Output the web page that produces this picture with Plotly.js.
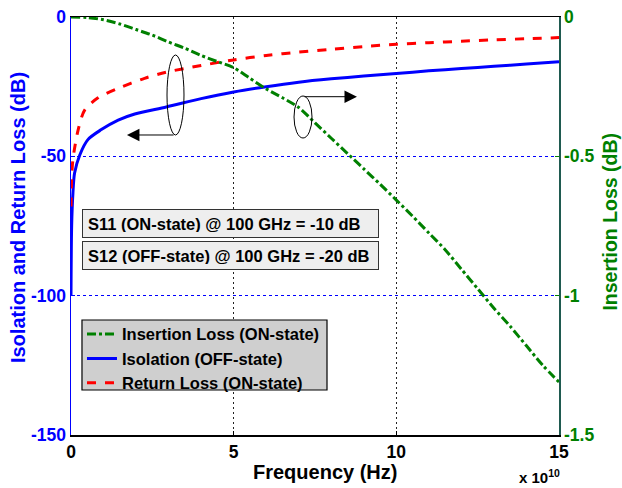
<!DOCTYPE html>
<html>
<head>
<meta charset="utf-8">
<script src="https://cdn.plot.ly/plotly-3.0.1.min.js"></script>
<style>html,body{margin:0;padding:0;background:#fff;}#chart{width:622px;height:488px;}</style>
</head>
<body>
<div id="chart"></div>
<script>
// Frequency in units of 1e10 Hz
const freqIso = [0, 0.02, 0.06, 0.11, 0.27, 0.52, 0.92, 1.45, 1.96, 2.93, 4, 5, 6, 7, 8, 9, 10, 11, 12, 13, 14, 15];
const isolation = [-100, -75, -63, -56, -49.5, -44, -40.5, -37, -34.8, -32.3, -29.3, -26.9, -25, -23.4, -22.2, -21.2, -20.3, -19.3, -18.5, -17.7, -16.9, -16.1];

const freqRL = [0, 0.02, 0.06, 0.22, 0.42, 0.83, 1.45, 2.26, 2.93, 4, 5, 6, 7, 8, 9, 10, 11, 12, 13, 14, 15];
const returnLoss = [-68, -58, -51, -40.5, -33.4, -29, -25.6, -22, -19.8, -17.4, -15.4, -13.8, -12.6, -11.6, -10.6, -9.8, -9.2, -8.7, -8.2, -7.8, -7.4];

const freqIL = [0, 0.5, 1, 1.5, 2, 2.5, 3, 3.5, 4, 4.5, 5, 5.5, 6, 6.5, 7, 7.5, 8, 8.5, 9, 9.5, 10, 10.5, 11, 11.5, 12, 12.5, 13, 13.5, 14, 14.5, 15];
const insertionLoss = [0, -0.002, -0.01, -0.025, -0.045, -0.065, -0.09, -0.112, -0.138, -0.16, -0.182, -0.22, -0.258, -0.29, -0.325, -0.38, -0.435, -0.49, -0.545, -0.6, -0.657, -0.715, -0.775, -0.835, -0.905, -0.975, -1.045, -1.11, -1.18, -1.25, -1.31];

const xTicks = [0, 5, 10, 15];
const yLeftTicks = [0, -50, -100, -150];
const yRightTicks = [0, -0.5, -1, -1.5];

const FONT = 'Liberation Sans, Arial, sans-serif';
const GREEN = '#008000', BLUE = '#0000ff', RED = '#ff0000';

const traces = [
  {x: freqIL, y: insertionLoss, yaxis: 'y2', type: 'scatter', mode: 'lines', name: 'Insertion Loss (ON-state)',
   line: {color: GREEN, width: 3, dash: 'dashdot', shape: 'spline', smoothing: 0.8}},
  {x: freqIso, y: isolation, type: 'scatter', mode: 'lines', name: 'Isolation (OFF-state)',
   line: {color: BLUE, width: 3, shape: 'spline', smoothing: 0.8}},
  {x: freqRL, y: returnLoss, type: 'scatter', mode: 'lines', name: 'Return Loss (ON-state)',
   line: {color: RED, width: 3, dash: 'dash', shape: 'spline', smoothing: 0.8}}
];

const tickFont = (c) => ({family: FONT, size: 17.5, color: c, weight: 'bold'});

const layout = {
  width: 622, height: 488,
  margin: {l: 71, r: 63, t: 17, b: 53},
  paper_bgcolor: '#fff', plot_bgcolor: '#fff',
  font: {family: FONT, size: 16, color: '#000', weight: 'bold'},
  showlegend: true,
  legend: {x: 0.0225, y: 0.283, xanchor: 'left', yanchor: 'top', bgcolor: 'rgba(0,0,0,0)', borderwidth: 0,
           font: {family: FONT, size: 16.5, color: '#000', weight: 'bold'}, tracegroupgap: 0, itemwidth: 30},
  xaxis: {range: [0, 15], tickvals: xTicks, ticktext: xTicks.map(String), showline: true, linecolor: '#000', linewidth: 1.5,
          mirror: true, showgrid: true, gridcolor: '#222', griddash: '2px,3px', gridwidth: 1, zeroline: false,
          ticks: 'inside', ticklen: 4, tickcolor: '#000', tickfont: tickFont('#000')},
  yaxis: {range: [-150, 0], tickvals: yLeftTicks, ticktext: yLeftTicks.map(String), showline: true, linecolor: BLUE, linewidth: 1.5,
          showgrid: true, gridcolor: BLUE, griddash: '3px,3px', gridwidth: 1, zeroline: false,
          ticks: 'inside', ticklen: 4, tickcolor: BLUE, tickfont: tickFont(BLUE)},
  yaxis2: {range: [-1.5, 0], tickvals: yRightTicks, ticktext: yRightTicks.map(String), overlaying: 'y', side: 'right',
           showline: true, linecolor: '#1f5a50', linewidth: 1.5, showgrid: false, zeroline: false,
           ticks: 'inside', ticklen: 4, tickcolor: GREEN, tickfont: tickFont(GREEN)},
  shapes: [
    {type: 'circle', xref: 'x', yref: 'y', x0: 2.951, x1: 3.473, y0: -13.64, y1: -42.34, line: {color: '#000', width: 1}},
    {type: 'circle', xref: 'x', yref: 'y', x0: 6.855, x1: 7.408, y0: -28.35, y1: -43.42, line: {color: '#000', width: 1}},
    {type: 'rect', xref: 'paper', yref: 'paper', x0: 0.0225, x1: 0.5246, y0: 0.1077, y1: 0.2751,
     fillcolor: '#cfcfcf', line: {color: '#000', width: 1.2}, layer: 'above'}
  ],
  annotations: [
    {x: 1.72, y: -42.34, xref: 'x', yref: 'y', ax: 3.2, ay: -42.34, axref: 'x', ayref: 'y', showarrow: true, text: '',
     arrowhead: 2, arrowsize: 2.5, arrowwidth: 1, arrowcolor: '#000'},
    {x: 8.79, y: -28.6, xref: 'x', yref: 'y', ax: 7.13, ay: -28.6, axref: 'x', ayref: 'y', showarrow: true, text: '',
     arrowhead: 2, arrowsize: 2.5, arrowwidth: 1, arrowcolor: '#000'},
    {x: 0.0225, y: 0.5407, xref: 'paper', yref: 'paper', xanchor: 'left', yanchor: 'top', showarrow: false,
     text: 'S11 (ON-state) @ 100 GHz = -10 dB', align: 'left', width: 285, height: 17, borderpad: 5,
     bgcolor: '#eeeeee', bordercolor: '#333', borderwidth: 1, font: {family: FONT, size: 16.5, color: '#000', weight: 'bold'}},
    {x: 0.0225, y: 0.464, xref: 'paper', yref: 'paper', xanchor: 'left', yanchor: 'top', showarrow: false,
     text: 'S12 (OFF-state) @ 100 GHz = -20 dB', align: 'left', width: 285, height: 17, borderpad: 5,
     bgcolor: '#eeeeee', bordercolor: '#333', borderwidth: 1, font: {family: FONT, size: 16.5, color: '#000', weight: 'bold'}},
    {x: -0.1086, y: 0.519, xref: 'paper', yref: 'paper', xanchor: 'center', yanchor: 'middle', textangle: -90, showarrow: false,
     text: 'Isolation and Return Loss (dB)', font: {family: FONT, size: 20, color: BLUE, weight: 'bold'}},
    {x: 1.104, y: 0.51, xref: 'paper', yref: 'paper', xanchor: 'center', yanchor: 'middle', textangle: -90, showarrow: false,
     text: 'Insertion Loss (dB)', font: {family: FONT, size: 19.5, color: GREEN, weight: 'bold'}},
    {x: 0.52, y: -0.0895, xref: 'paper', yref: 'paper', xanchor: 'center', yanchor: 'middle', showarrow: false,
     text: 'Frequency (Hz)', font: {family: FONT, size: 20, color: '#000', weight: 'bold'}},
    {x: 0.961, y: -0.1, xref: 'paper', yref: 'paper', xanchor: 'center', yanchor: 'middle', showarrow: false,
     text: 'x 10<sup>10</sup>', font: {family: FONT, size: 15, color: '#000', weight: 'bold'}}
  ]
};

Plotly.newPlot('chart', traces, layout, {staticPlot: true, displayModeBar: false});
</script>
</body>
</html>
